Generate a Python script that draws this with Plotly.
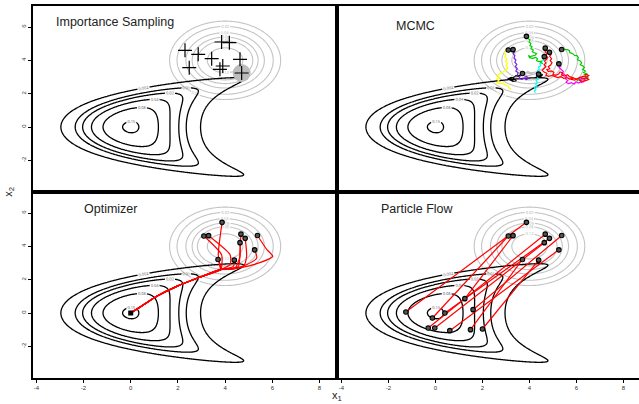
import numpy as np
import plotly.graph_objects as go

# ---------------- data ----------------
black_levels = [0.002, 0.01, 0.02, 0.04, 0.08, 0.15]
gray_levels = [0.01, 0.02, 0.04, 0.06, 0.08, 0.12]
banana_a, banana_c = 0.311, 0.0222      # curvature of target's ridge
prop_mean = (4.0, 4.0)
prop_sd = 1.0

# importance sampling particles
is_x = [2.30, 2.86, 2.48, 3.43, 3.85, 4.18, 3.90, 3.78, 4.63, 4.70]
is_y = [4.60, 4.36, 3.56, 4.10, 5.10, 5.06, 3.66, 3.46, 4.06, 3.24]
is_heavy_x = [4.70]
is_heavy_y = [3.24]

# starting particles (shared by MCMC / optimizer / flow)
start_x = [3.87, 3.10, 3.30, 4.67, 4.85, 4.63, 5.37, 5.25, 3.70, 4.39]
start_y = [5.44, 4.62, 4.64, 4.73, 4.48, 4.22, 4.65, 3.79, 3.21, 3.17]

# MCMC chains
mcmc_green1_x = [3.87, 3.80, 3.92, 3.95, 4.02, 3.98, 4.06, 4.02, 4.10, 4.06, 4.16, 4.12, 4.22, 4.30,
                 4.24, 4.12, 4.02, 3.96, 4.00, 4.14, 4.26, 4.34, 4.30, 4.40, 4.52, 4.48, 4.58]
mcmc_green1_y = [5.44, 5.50, 5.42, 5.30, 5.22, 5.10, 5.02, 4.90, 4.82, 4.70, 4.62, 4.52, 4.46, 4.40,
                 4.30, 4.28, 4.22, 4.30, 4.16, 4.12, 4.18, 4.10, 3.98, 3.92, 3.96, 3.86, 3.80]
mcmc_green2_x = [5.37, 5.50, 5.62, 5.70, 5.72, 5.84, 5.92, 6.02, 6.08, 6.04, 6.16, 6.22, 6.16, 6.28,
                 6.34, 6.26, 6.38, 6.30, 6.44, 6.36, 6.48, 6.40, 6.28, 6.20, 6.10, 6.02]
mcmc_green2_y = [4.65, 4.66, 4.64, 4.58, 4.46, 4.40, 4.30, 4.28, 4.16, 4.04, 3.96, 3.84, 3.74, 3.66,
                 3.56, 3.46, 3.36, 3.26, 3.18, 3.06, 2.98, 2.88, 2.92, 2.80, 2.86, 2.76]
mcmc_red1_x = [4.85, 4.92, 4.86, 4.94, 4.88, 4.96, 4.90, 4.80, 4.86, 4.74, 4.80, 4.92, 5.04, 5.00, 5.12,
               5.24, 5.30, 5.42, 5.36, 5.50, 5.62, 5.70, 5.84, 5.78, 5.92, 6.06, 6.18, 6.30, 6.44,
               6.52, 6.40, 6.24, 6.10]
mcmc_red1_y = [4.48, 4.36, 4.24, 4.10, 3.98, 3.86, 3.72, 3.62, 3.50, 3.44, 3.32, 3.36, 3.28, 3.16, 3.10,
               3.18, 3.30, 3.24, 3.12, 3.06, 3.14, 3.02, 2.96, 2.86, 2.82, 2.90, 2.98, 2.90, 2.94,
               2.86, 2.78, 2.74, 2.82]
mcmc_red2_x = [4.67, 4.72, 4.66, 4.74, 4.70, 4.78, 4.72, 4.64, 4.70, 4.62, 4.70, 4.62, 4.54, 4.62,
               4.74, 4.70, 4.82, 4.96, 5.08, 5.20, 5.34, 5.46, 5.60, 5.72, 5.86, 6.00, 6.14, 6.28,
               6.40, 6.52, 6.44, 6.30]
mcmc_red2_y = [4.73, 4.62, 4.50, 4.40, 4.28, 4.18, 4.06, 3.96, 3.84, 3.74, 3.62, 3.50, 3.40, 3.30,
               3.22, 3.10, 3.04, 3.10, 3.02, 2.96, 3.02, 2.92, 2.96, 2.88, 2.94, 2.88, 2.96, 3.04,
               3.00, 3.08, 3.16, 3.12]
mcmc_magenta_x = [5.25, 5.32, 5.26, 5.36, 5.44, 5.38, 5.50, 5.58, 5.52, 5.62, 5.56, 5.66, 5.78, 5.90,
                  5.98, 6.10, 6.20, 6.14, 6.26, 6.36, 6.30, 6.18]
mcmc_magenta_y = [3.79, 3.68, 3.56, 3.46, 3.34, 3.22, 3.14, 3.02, 2.90, 2.80, 2.68, 2.60, 2.66, 2.58,
                  2.70, 2.64, 2.74, 2.86, 2.92, 2.84, 2.72, 2.66]
mcmc_cyan_x = [4.63, 4.56, 4.60, 4.50, 4.44, 4.48, 4.38, 4.42, 4.34, 4.40, 4.50, 4.44, 4.34, 4.38,
               4.28, 4.34, 4.26, 4.32, 4.22, 4.28, 4.20, 4.26]
mcmc_cyan_y = [4.22, 4.12, 4.00, 3.92, 3.80, 3.68, 3.60, 3.48, 3.38, 3.26, 3.18, 3.06, 3.00, 2.88,
               2.80, 2.68, 2.58, 2.46, 2.38, 2.26, 2.16, 2.06]
mcmc_yellow_x = [3.10, 3.00, 2.94, 3.00, 2.96, 3.04, 2.98, 3.06, 3.00, 3.08, 3.02, 2.92, 2.80, 2.70,
                 2.62, 2.72, 2.60, 2.70, 2.62, 2.74, 2.86, 2.96, 3.08, 3.16, 3.20]
mcmc_yellow_y = [4.62, 4.56, 4.46, 4.34, 4.20, 4.08, 3.94, 3.82, 3.68, 3.56, 3.42, 3.34, 3.28, 3.16,
                 3.06, 2.96, 2.88, 2.78, 2.66, 2.58, 2.64, 2.52, 2.44, 2.34, 2.24]
mcmc_purple_x = [3.30, 3.36, 3.30, 3.38, 3.34, 3.42, 3.38, 3.46, 3.40, 3.48, 3.42, 3.52, 3.48, 3.60,
                 3.56, 3.68, 3.78, 3.86, 3.96, 3.90, 3.78]
mcmc_purple_y = [4.64, 4.52, 4.40, 4.28, 4.14, 4.02, 3.88, 3.76, 3.62, 3.50, 3.36, 3.26, 3.12, 3.04,
                 2.92, 2.86, 2.94, 2.84, 2.92, 3.02, 3.06]
mcmc_black1_x = [3.70, 3.62, 3.52, 3.42, 3.34, 3.24, 3.16, 3.26, 3.36, 3.44, 3.30, 3.20, 3.10, 3.22, 3.34]
mcmc_black1_y = [3.21, 3.12, 3.04, 3.08, 2.98, 2.94, 2.86, 2.80, 2.88, 2.78, 2.74, 2.80, 2.90, 2.98, 2.92]
mcmc_gray_x = [4.39, 4.28, 4.16, 4.06, 3.96, 3.86, 3.78, 3.88, 4.00, 4.10, 3.98, 3.90]
mcmc_gray_y = [3.17, 3.22, 3.16, 3.26, 3.20, 3.28, 3.18, 3.10, 3.08, 3.14, 3.30, 3.36]
mcmc_black2_x = [4.39, 4.48, 4.56, 4.50, 4.40, 4.30, 4.36, 4.46]
mcmc_black2_y = [3.17, 3.10, 3.16, 3.04, 3.00, 3.06, 3.14, 3.20]

mcmc_chains = [
    ("#BEBEBE", mcmc_gray_x, mcmc_gray_y),
    ("#FFFF00", mcmc_yellow_x, mcmc_yellow_y),
    ("#7A1FE0", mcmc_purple_x, mcmc_purple_y),
    ("#00FFFF", mcmc_cyan_x, mcmc_cyan_y),
    ("#00CD00", mcmc_green1_x, mcmc_green1_y),
    ("#00CD00", mcmc_green2_x, mcmc_green2_y),
    ("#FF00FF", mcmc_magenta_x, mcmc_magenta_y),
    ("#FF0000", mcmc_red1_x, mcmc_red1_y),
    ("#FF0000", mcmc_red2_x, mcmc_red2_y),
    ("#000000", mcmc_black1_x, mcmc_black1_y),
    ("#000000", mcmc_black2_x, mcmc_black2_y),
]

# optimizer paths (branch waypoints, then shared trunk to the mode)
opt_branches = [
    [(3.71, 3.50), (3.79, 2.70)],
    [(3.85, 3.50), (3.85, 2.75)],
    [(4.21, 3.50), (4.21, 2.90)],
    [(4.63, 3.70), (4.56, 2.80)],
    [(4.91, 3.40), (4.77, 2.80)],
    [(4.63, 3.40), (4.42, 2.70)],
    [(5.77, 3.80), (6.02, 3.40), (5.20, 2.90), (4.35, 2.65)],
    [(5.34, 3.30), (4.91, 2.90), (4.35, 2.65)],
    [(3.79, 2.90)],
    [(4.35, 2.80)],
]
opt_trunk_x = [3.80, 2.95, 1.95, 1.10, 0.50, 0.00]
opt_trunk_y = [2.60, 2.16, 1.60, 1.00, 0.45, 0.00]

# particle flow end points (paired with start points)
flow_end_x = [-1.26, -0.13, 1.25, -0.31, 0.40, -0.03, 1.60, 0.61, 1.49, 2.00]
flow_end_y = [0.06, -0.30, 0.86, -0.90, 0.00, -0.90, 0.20, -1.06, -1.00, -0.96]

x_ticks = [-4, -2, 0, 2, 4, 6, 8]
y_ticks = [-2, 0, 2, 4, 6]
titles = ["Importance Sampling", "MCMC", "Optimizer", "Particle Flow"]

# ---------------- densities ----------------
def target(x1, x2):
    g = banana_a * x2**2 + banana_c * x2**4
    return np.exp(-0.5 * x2**2 - 0.5 * (x1 - g)**2) / (2 * np.pi)

def proposal(x1, x2):
    r2 = ((x1 - prop_mean[0])**2 + (x2 - prop_mean[1])**2) / prop_sd**2
    return np.exp(-0.5 * r2) / (2 * np.pi * prop_sd**2)

bx = np.arange(-3.6, 6.3, 0.05)
by = np.arange(-3.5, 3.7, 0.05)
BX, BY = np.meshgrid(bx, by)
ZB = target(BX, BY).astype(np.float32)
gx = np.arange(1.3, 6.75, 0.05)
GX, GY = np.meshgrid(gx, gx)
ZG = proposal(GX, GY).astype(np.float32)

fig = go.Figure()

W, H = 639, 404
ml, mt, mb = 33, 6, 26
pw = W - ml
col_split = (337 - ml) / pw
xdom = [[0, col_split], [col_split, 1]]
ydom = [[0.5, 1], [0, 0.5]]
xr = [[-4.14, 8.74], [-4.19, 8.66]]
yr = [-3.9, 7.26]

dot_marker = dict(symbol="circle", size=4.5, color="#555555", line=dict(width=1.1, color="black"))

panels = [(0, 0), (0, 1), (1, 0), (1, 1)]
for i, (r, c) in enumerate(panels):
    n = i + 1
    xa = "x" if n == 1 else f"x{n}"
    ya = "y" if n == 1 else f"y{n}"
    for L in gray_levels:
        fig.add_trace(go.Contour(x=gx, y=gx, z=ZG, xaxis=xa, yaxis=ya,
            autocontour=False,
            contours=dict(start=L, end=L, size=1, coloring="none", showlabels=True,
                          labelfont=dict(size=4, color="#b0b0b0"), labelformat=".2~g"),
            line=dict(color="#c4c4c4", width=1.1), showscale=False, hoverinfo="skip"))
    for L in black_levels:
        fig.add_trace(go.Contour(x=bx, y=by, z=ZB, xaxis=xa, yaxis=ya,
            autocontour=False,
            contours=dict(start=L, end=L, size=1, coloring="none", showlabels=True,
                          labelfont=dict(size=4, color="#555555"), labelformat=".3~g"),
            line=dict(color="black", width=1.3), showscale=False, hoverinfo="skip"))
    xkey = "xaxis" if n == 1 else f"xaxis{n}"
    ykey = "yaxis" if n == 1 else f"yaxis{n}"
    bottom = (r == 1)
    left = (c == 0)
    fig.layout[xkey] = dict(domain=xdom[c], range=xr[c], anchor=ya,
        showline=True, mirror=True, linecolor="black", linewidth=1.5,
        showgrid=False, zeroline=False,
        tickvals=x_ticks if bottom else [], ticktext=[str(v) for v in x_ticks] if bottom else [],
        ticks="outside" if bottom else "", ticklen=3, tickcolor="black", tickwidth=1,
        tickfont=dict(size=6, color="#333333", family="Liberation Sans"))
    fig.layout[ykey] = dict(domain=ydom[r], range=yr, anchor=xa,
        showline=True, mirror=left, linecolor="black", linewidth=1.5,
        showgrid=False, zeroline=False,
        tickvals=y_ticks if left else [], ticktext=[str(v) for v in y_ticks] if left else [],
        ticks="outside" if left else "", ticklen=3, tickcolor="black", tickwidth=1,
        tickangle=-90,
        tickfont=dict(size=6, color="#333333", family="Liberation Sans"))
    fig.add_annotation(text=titles[i], xref=f"{xa} domain", yref=f"{ya} domain",
        x=[0.07, 0.19, 0.16, 0.14][i], y=[0.915, 0.895, 0.91, 0.91][i],
        xanchor="left", yanchor="middle", showarrow=False,
        font=dict(size=12.5, color="#222222", family="Liberation Sans"))

# Importance sampling
fig.add_trace(go.Scatter(x=is_heavy_x, y=is_heavy_y, mode="markers", xaxis="x", yaxis="y",
    marker=dict(size=18, color="#bdbdbd", line=dict(width=0)), hoverinfo="skip"))
fig.add_trace(go.Scatter(x=is_x, y=is_y, mode="markers", xaxis="x", yaxis="y",
    marker=dict(symbol="cross-thin", size=10, line=dict(width=1.2, color="black")), hoverinfo="skip"))

# MCMC
for col, cx, cy in mcmc_chains:
    fig.add_trace(go.Scatter(x=cx, y=cy, mode="lines", xaxis="x2", yaxis="y2",
        line=dict(color=col, width=1.2), hoverinfo="skip"))
fig.add_trace(go.Scatter(x=start_x, y=start_y, mode="markers", xaxis="x2", yaxis="y2",
    marker=dot_marker, hoverinfo="skip"))

# Optimizer
for k, br in enumerate(opt_branches):
    px = [start_x[k]] + [p[0] for p in br] + opt_trunk_x
    py = [start_y[k]] + [p[1] for p in br] + opt_trunk_y
    fig.add_trace(go.Scatter(x=px, y=py, mode="lines", xaxis="x3", yaxis="y3",
        line=dict(color="red", width=1.2, shape="spline", smoothing=0.6), hoverinfo="skip"))
fig.add_trace(go.Scatter(x=start_x, y=start_y, mode="markers", xaxis="x3", yaxis="y3",
    marker=dot_marker, hoverinfo="skip"))
fig.add_trace(go.Scatter(x=[opt_trunk_x[-1]], y=[opt_trunk_y[-1]], mode="markers", xaxis="x3", yaxis="y3",
    marker=dict(symbol="square", size=5, color="black"), hoverinfo="skip"))

# Particle flow
for k in range(len(start_x)):
    fig.add_trace(go.Scatter(x=[start_x[k], flow_end_x[k]], y=[start_y[k], flow_end_y[k]],
        mode="lines", xaxis="x4", yaxis="y4",
        line=dict(color="red", width=1.2), hoverinfo="skip"))
fig.add_trace(go.Scatter(x=start_x + flow_end_x, y=start_y + flow_end_y, mode="markers",
    xaxis="x4", yaxis="y4", marker=dot_marker, hoverinfo="skip"))

# axis titles
fig.add_annotation(text="x<sub>1</sub>", xref="paper", yref="paper", x=(337 - ml) / pw, y=-0.048,
    xanchor="center", yanchor="middle", showarrow=False,
    font=dict(size=11, color="#222222", family="Liberation Sans"))
fig.add_annotation(text="x<sub>2</sub>", xref="paper", yref="paper", x=-0.04, y=0.5,
    xanchor="center", yanchor="middle", textangle=-90, showarrow=False,
    font=dict(size=11, color="#222222", family="Liberation Sans"))

fig.update_layout(width=W, height=H, margin=dict(l=ml, r=0, t=mt, b=mb),
    paper_bgcolor="white", plot_bgcolor="white", showlegend=False)

fig.write_html("out.html")
